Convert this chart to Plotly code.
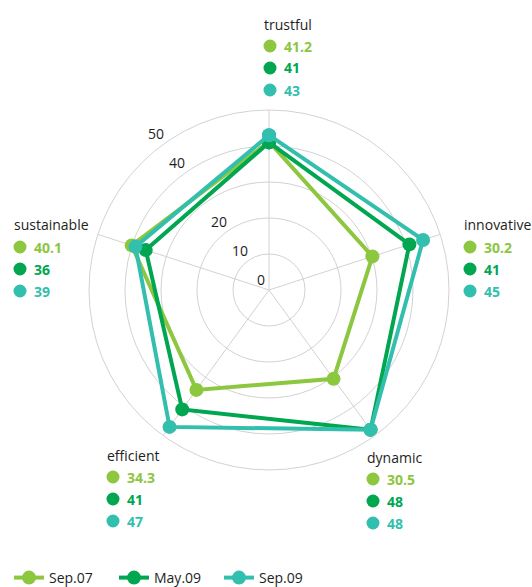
import math
import plotly.graph_objects as go

# ---- data -------------------------------------------------------------
categories = ["trustful", "innovative", "dynamic", "efficient", "sustainable"]
series_names = ["Sep.07", "May.09", "Sep.09"]
sep07 = [41.2, 30.2, 30.5, 34.3, 40.1]
may09 = [41, 41, 48, 41, 36]
sep09 = [43, 45, 48, 47, 39]
radial_ticks = [0, 10, 20, 30, 40, 50]
radial_tick_text = ["0", "10", "20", "", "40", "50"]

# ---- styling ----------------------------------------------------------
W, H = 532, 587
colors = ["#8DC63F", "#00A650", "#33BFAE"]
grid = "#D2D2D2"
text_col = "#1E1E1E"
font_family = "Open Sans"
series_values = [sep07, may09, sep09]
r_max = 50

angles = [i * 360 / len(categories) for i in range(len(categories))]

# pixel anchor (left edge, vertical centre of the title line) of each label block
block_anchor = {
    "trustful": (262, 24),
    "innovative": (462, 225),
    "dynamic": (365, 457),
    "efficient": (105, 455),
    "sustainable": (12, 225),
}
row_gap = 22

# polar area: centre and outer radius in pixels
cx, cy, rad = 269, 290, 180
scale_angle = 126      # direction of the radial scale labels (deg, ccw from east)
scale_offset = 13      # px beyond each ring


def px(x):
    return x / W


def py(y):
    return 1 - y / H


fig = go.Figure()

for name, vals, col in zip(series_names, series_values, colors):
    fig.add_trace(go.Scatterpolar(
        r=vals + vals[:1],
        theta=angles + angles[:1],
        mode="lines+markers",
        name=name,
        line=dict(color=col, width=4),
        marker=dict(color=col, size=14),
        hoverinfo="skip",
    ))

annotations = []
shapes = []

# radial scale labels along the spoke between sustainable and trustful
ux = math.cos(math.radians(scale_angle))
uy = -math.sin(math.radians(scale_angle))
for v, t in zip(radial_ticks, radial_tick_text):
    if not t:
        continue
    d = v / r_max * rad + scale_offset
    annotations.append(dict(
        x=px(cx + ux * d), y=py(cy + uy * d), xref="paper", yref="paper",
        xanchor="center", yanchor="middle", showarrow=False,
        text=t, font=dict(family=font_family, size=14, color=text_col),
    ))

for ci, cat in enumerate(categories):
    x0, y0 = block_anchor[cat]
    annotations.append(dict(
        x=px(x0), y=py(y0), xref="paper", yref="paper",
        xanchor="left", yanchor="middle", showarrow=False,
        text=cat, font=dict(family=font_family, size=14, color=text_col),
    ))
    for si, (vals, col) in enumerate(zip(series_values, colors)):
        yy = y0 + row_gap * (si + 1)
        shapes.append(dict(
            type="circle", xref="paper", yref="paper",
            xsizemode="pixel", ysizemode="pixel",
            xanchor=px(x0 + 8), yanchor=py(yy),
            x0=-6.5, x1=6.5, y0=-6.5, y1=6.5,
            fillcolor=col, line=dict(width=0),
        ))
        v = vals[ci]
        annotations.append(dict(
            x=px(x0 + 20), y=py(yy), xref="paper", yref="paper",
            xanchor="left", yanchor="middle", showarrow=False,
            text=f"<b>{v:g}</b>",
            font=dict(family=font_family, size=14, color=col),
        ))

fig.update_layout(
    width=W, height=H,
    margin=dict(l=0, r=0, t=0, b=0, autoexpand=False),
    paper_bgcolor="white",
    plot_bgcolor="white",
    font=dict(family=font_family, size=14, color=text_col),
    polar=dict(
        domain=dict(x=[px(cx - rad), px(cx + rad)], y=[py(cy + rad), py(cy - rad)]),
        bgcolor="white",
        radialaxis=dict(
            range=[0, r_max], tickvals=radial_ticks, showticklabels=False,
            ticks="", showline=False, gridcolor=grid, gridwidth=1,
            angle=scale_angle,
        ),
        angularaxis=dict(
            rotation=90, direction="clockwise", thetaunit="degrees",
            tickvals=angles, showticklabels=False, ticks="",
            gridcolor=grid, gridwidth=1, linecolor=grid, linewidth=1,
        ),
    ),
    legend=dict(
        orientation="h", x=px(9), y=py(578), xanchor="left", yanchor="middle",
        font=dict(family=font_family, size=14, color=text_col),
        entrywidth=60, entrywidthmode="pixels",
    ),
    annotations=annotations,
    shapes=shapes,
)

fig.write_html("out.html")
